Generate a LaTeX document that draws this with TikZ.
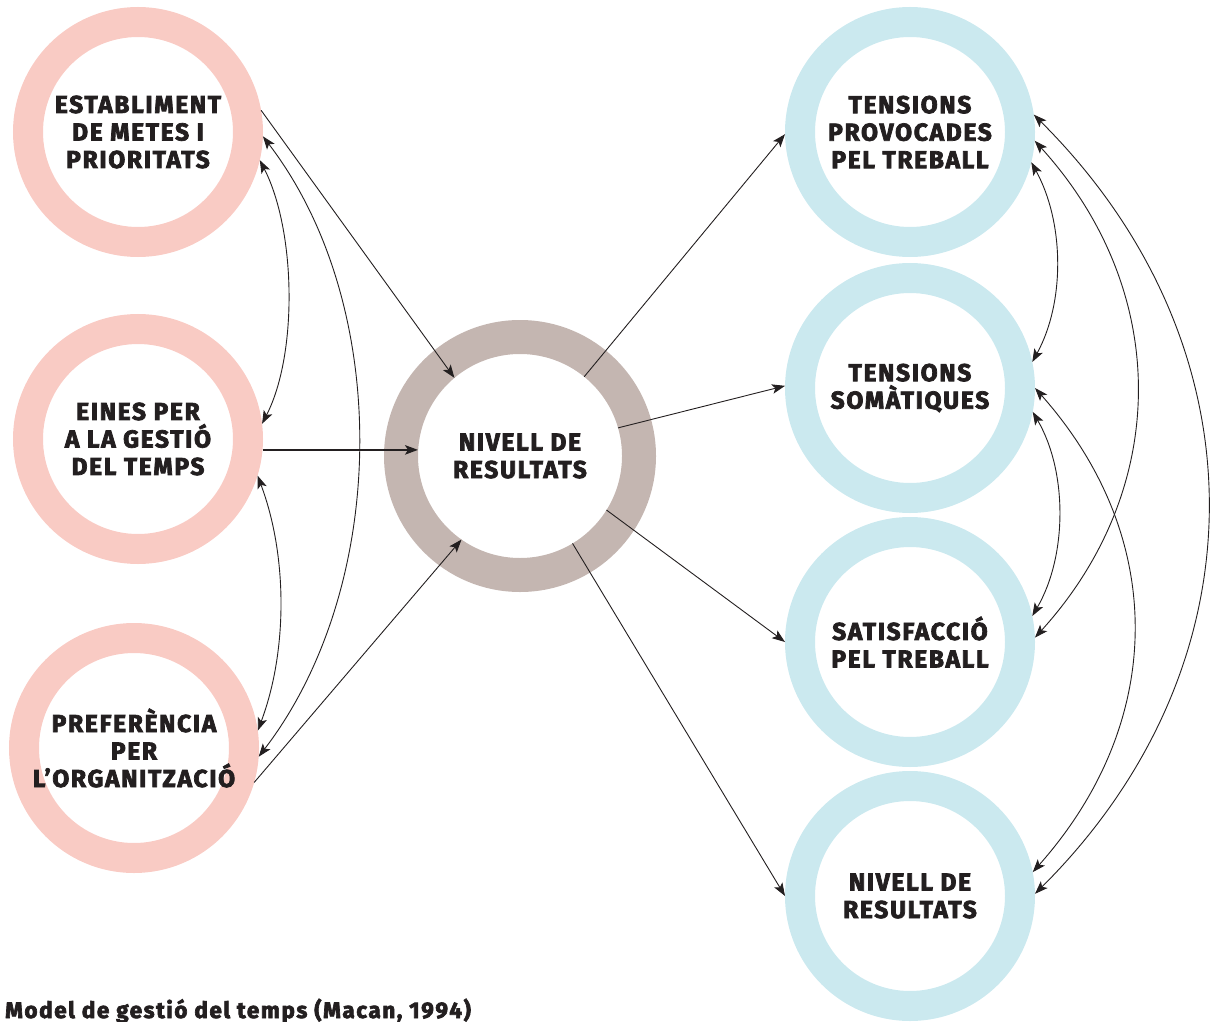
\documentclass[tikz,border=0pt]{standalone}
\usepackage{fontspec}
\setmainfont{Fira Sans}
\newfontfamily\heavyfont{Fira Sans}[BoldFeatures={FakeBold=3}, LetterSpace=7]
\usetikzlibrary{arrows.meta}
\definecolor{pinkc}{HTML}{F9CBC4}
\definecolor{greyc}{HTML}{C4B6B1}
\definecolor{bluec}{HTML}{CBE9EF}
\definecolor{inkc}{HTML}{231F20}
\begin{document}
\begin{tikzpicture}[x=1pt,y=-1pt,
  lbl/.style={font=\heavyfont\bfseries\fontsize{24.5}{27.5}\selectfont, text=inkc, align=center},
  ring/.style={circle, line width=30pt, minimum size=220pt, inner sep=0pt, outer sep=15pt, lbl},
  pinkring/.style={ring, draw=pinkc},
  bluering/.style={ring, draw=bluec},
  conn/.style={draw=inkc, line width=0.9pt},
  tip/.style={-{Stealth[length=13pt,width=9.5pt,inset=3pt]}},
  both/.style={{Stealth[length=13pt,width=9.5pt,inset=3pt]}-{Stealth[length=13pt,width=9.5pt,inset=3pt]}}]
\useasboundingbox (0,0) rectangle (1210,1022);

% left circles
\node[pinkring] (TL) at (138,132) {ESTABLIMENT\\DE METES I\\PRIORITATS};
\node[pinkring] (ML) at (138,439) {EINES PER\\A LA GESTIÓ\\DEL TEMPS};
\node[pinkring] (BL) at (134,748) {PREFERÈNCIA\\PER\\L’ORGANITZACIÓ};

% middle circle
\node[circle, draw=greyc, line width=34pt, minimum size=238pt, inner sep=0pt, outer sep=17pt] (MC) at (520,456) {};
\node[circle, minimum size=204pt, inner sep=0pt, outer sep=0pt, lbl] (MCin) at (520,456) {NIVELL DE\\RESULTATS};

% right circles
\node[bluering] (R1) at (910,132) {TENSIONS\\PROVOCADES\\PEL TREBALL};
\node[bluering] (R2) at (910,388) {TENSIONS\\SOMÀTIQUES};
\node[bluering] (R3) at (910,642) {SATISFACCIÓ\\PEL TREBALL};
\node[bluering] (R4) at (910,896) {NIVELL DE\\RESULTATS};

% straight connectors
\draw[conn,tip] (TL.10) -- (MCin.130);
\draw[conn,tip,line width=1.6pt] (ML.-5.5) -- (ML.-5.5 -| MCin.west);
\draw[conn,tip] (BL.-16) -- (MCin.-125);
\draw[conn,tip] (MCin.51) -- (R1.181);
\draw[conn,tip] (MCin.16) -- (R2.179);
\draw[conn,tip] (MCin.-32) -- (R3.180);
\draw[conn,tip] (MCin.-59) -- (R4.180);

% left curves
\draw[conn,both] (TL.-13) .. controls +(36,70) and +(36,-70) .. (ML.7);
\draw[conn,both] (ML.-17) .. controls +(30,80) and +(30,-80) .. (BL.8);
\draw[conn,both] (TL.-2) .. controls +(130,170) and +(130,-170) .. (BL.-4);

% right curves
\draw[conn,both] (R1.-14) .. controls +(33,60) and +(33,-60) .. (R2.12);
\draw[conn,both] (R2.-11.5) .. controls +(35,60) and +(35,-60) .. (R3.12.5);
\draw[conn,both] (R1.-4) .. controls +(136,150) and +(136,-150) .. (R3.2);
\draw[conn,both] (R2.0) .. controls +(133,150) and +(133,-150) .. (R4.11);
\draw[conn,both] (R1.8) .. controls +(231,230) and +(231,-230) .. (R4.1.4);

% caption
\node[anchor=base west, inner sep=0pt, font=\heavyfont\bfseries\fontsize{22.5}{24}\selectfont, text=inkc] (cap) at (5,1018) {Model de gestió del temps (Macan, 1994)};
\end{tikzpicture}
\end{document}
